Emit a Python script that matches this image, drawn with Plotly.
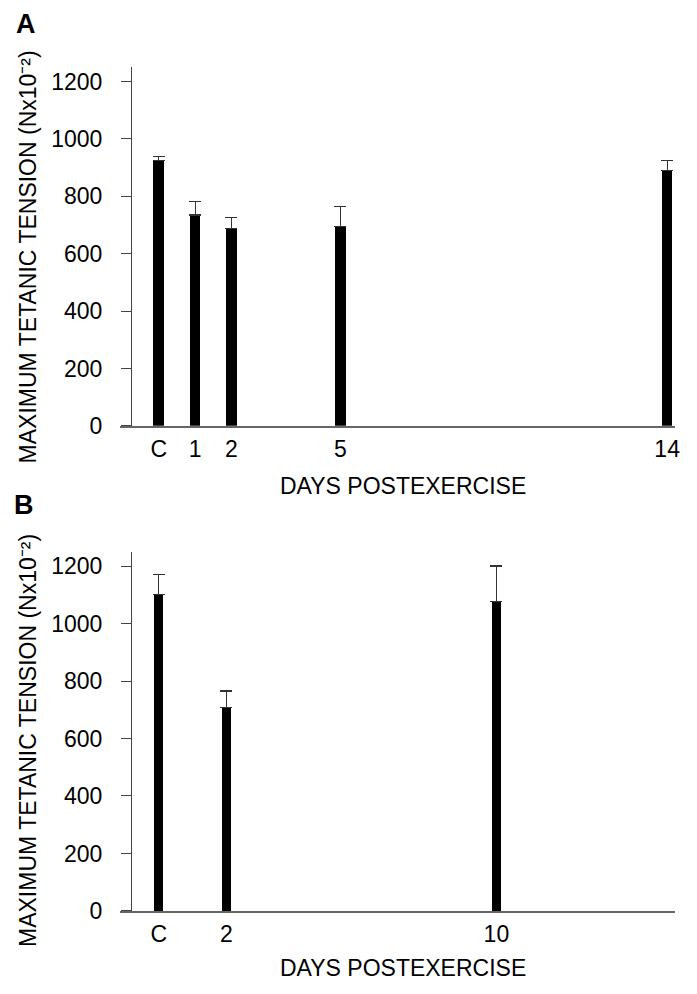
import plotly.graph_objects as go

# Panel A data
a_days = [0, 1, 2, 5, 14]
a_labels = ["C", "1", "2", "5", "14"]
a_mean = [925, 735, 687, 694, 890]
a_err = [14, 48, 38, 69, 35]

# Panel B data
b_days = [0, 2, 10]
b_labels = ["C", "2", "10"]
b_mean = [1101, 707, 1077]
b_err = [69, 58, 123]

y_ticks = [0, 200, 400, 600, 800, 1000, 1200]

W, H = 697, 994
FONT = "Liberation Sans, Arial, sans-serif"

def px(x):
    return x / W

def py(y):
    return 1 - y / H

fig = go.Figure()

fig.add_trace(go.Bar(
    x=a_days, y=a_mean, width=0.30, marker=dict(color="black", line=dict(width=0)),
    error_y=dict(type="data", symmetric=False, array=a_err, arrayminus=[0]*len(a_err),
                 color="#333333", thickness=1.2, width=6),
    xaxis="x", yaxis="y", showlegend=False))

fig.add_trace(go.Bar(
    x=b_days, y=b_mean, width=0.28, marker=dict(color="black", line=dict(width=0)),
    error_y=dict(type="data", symmetric=False, array=b_err, arrayminus=[0]*len(b_err),
                 color="#333333", thickness=1.2, width=6),
    xaxis="x2", yaxis="y2", showlegend=False))

common_x = dict(showline=True, linecolor="#666666", linewidth=1.5, ticks="",
                showgrid=False, zeroline=False, tickmode="array",
                tickfont=dict(family=FONT, size=23, color="black"), ticklabelstandoff=2)
common_y = dict(showline=True, linecolor="#444444", linewidth=1.3, ticks="outside",
                ticklen=10, tickwidth=1.2, tickcolor="#444444", showgrid=False,
                zeroline=False, tickmode="array", tickvals=y_ticks, range=[0, 1250],
                tickfont=dict(family=FONT, size=23, color="black"), ticklabelstandoff=14,
                anchor="free", position=px(132))

fig.update_layout(
    width=W, height=H, margin=dict(l=0, r=0, t=0, b=0),
    paper_bgcolor="white", plot_bgcolor="white", bargap=0,
    xaxis=dict(domain=[px(121), px(680)], range=[-39/36.57, 520/36.57],
               tickvals=a_days, ticktext=a_labels, anchor="y", **common_x),
    yaxis=dict(domain=[py(431.5), py(68)], **common_y),
    xaxis2=dict(domain=[px(121), px(680)], range=[-39/34.0, 520/34.0],
                tickvals=b_days, ticktext=b_labels, anchor="y2", **common_x),
    yaxis2=dict(domain=[py(923), py(559)], **common_y),
)

ytitle = "MAXIMUM TETANIC TENSION (Nx10\u207b\u00b2)"
for yc in (260, 750):
    fig.add_annotation(text=ytitle, textangle=-90, x=px(28), y=py(yc),
                       xref="paper", yref="paper", xanchor="center", yanchor="middle",
                       showarrow=False, font=dict(family=FONT, size=23, color="black"))
for yc in (492, 981):
    fig.add_annotation(text="DAYS POSTEXERCISE", x=px(406), y=py(yc),
                       xref="paper", yref="paper", xanchor="center", yanchor="middle",
                       showarrow=False, font=dict(family=FONT, size=23, color="black"))
for lab, xc, yc in (("A", 26, 24), ("B", 24, 512)):
    fig.add_annotation(text=lab, x=px(xc), y=py(yc),
                       xref="paper", yref="paper", xanchor="center", yanchor="middle",
                       showarrow=False,
                       font=dict(family=FONT, size=27, color="black", weight="bold"))

fig.write_html("out.html")
